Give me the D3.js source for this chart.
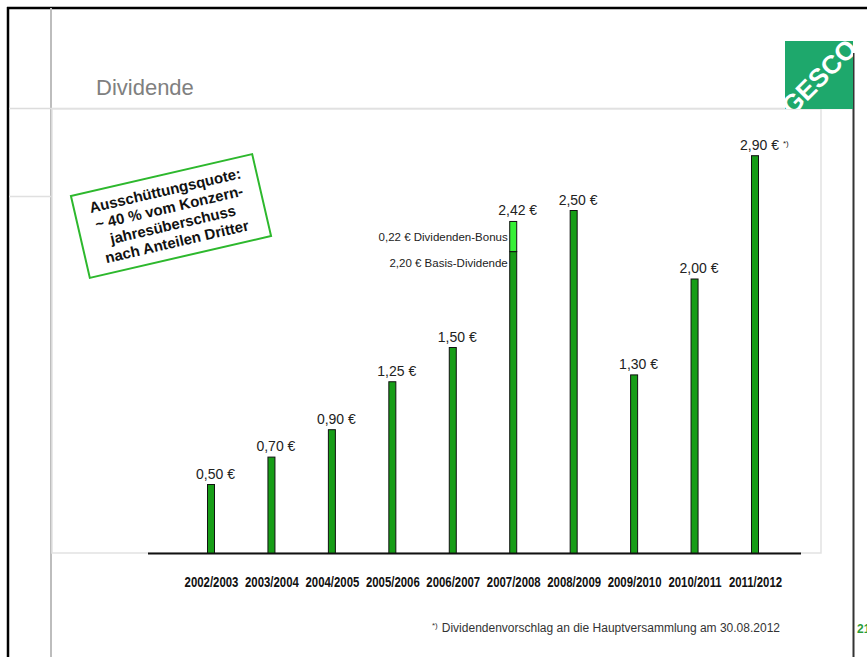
<!DOCTYPE html>
<html>
<head>
<meta charset="utf-8">
<script src="https://cdn.jsdelivr.net/npm/d3@7"></script>
<style>
  html, body { margin: 0; padding: 0; background: #fff; }
  svg { display: block; }
</style>
</head>
<body>
<svg id="chart" width="867" height="657"></svg>
<script>
// ---- data ----
const categories = ["2002/2003","2003/2004","2004/2005","2005/2006","2006/2007","2007/2008","2008/2009","2009/2010","2010/2011","2011/2012"];
const baseValues  = [0.50, 0.70, 0.90, 1.25, 1.50, 2.20, 2.50, 1.30, 2.00, 2.90];
const bonusValues = [0, 0, 0, 0, 0, 0.22, 0, 0, 0, 0];
const valueLabels = ["0,50 €","0,70 €","0,90 €","1,25 €","1,50 €","2,42 €","2,50 €","1,30 €","2,00 €","2,90 €"];
const footnoteMarks = ["","","","","","","","","","*)"];
const annotations = [
  {cat: "2007/2008", text: "0,22 € Dividenden-Bonus", part: "bonus"},
  {cat: "2007/2008", text: "2,20 € Basis-Dividende", part: "base"}
];
const boxLines = ["Ausschüttungsquote:", "~ 40 % vom Konzern-", "jahresüberschuss", "nach Anteilen Dritter"];
const title = "Dividende";
const footnoteMark = "*)";
const footnote = "Dividendenvorschlag an die Hauptversammlung am 30.08.2012";

const svg = d3.select("#chart");
const sans = "'Liberation Sans', Arial, Helvetica, sans-serif";

// ---- slide frame ----
svg.append("line").attr("x1", 7).attr("x2", 867).attr("y1", 8).attr("y2", 8).attr("stroke", "#000").attr("stroke-width", 2.5);
svg.append("line").attr("x1", 8).attr("x2", 8).attr("y1", 7).attr("y2", 657).attr("stroke", "#000").attr("stroke-width", 2.5);
svg.append("line").attr("x1", 51).attr("x2", 51).attr("y1", 8).attr("y2", 657).attr("stroke", "#bdbdbd").attr("stroke-width", 2);
svg.append("line").attr("x1", 9).attr("x2", 853).attr("y1", 108.5).attr("y2", 108.5).attr("stroke", "#dcdcdc").attr("stroke-width", 1.5);
svg.append("line").attr("x1", 9).attr("x2", 51).attr("y1", 196.5).attr("y2", 196.5).attr("stroke", "#e0e0e0").attr("stroke-width", 1.5);

// chart panel
svg.append("rect").attr("x", 52).attr("y", 109).attr("width", 769).attr("height", 444)
  .attr("fill", "#fff").attr("stroke", "#e2e2e2").attr("stroke-width", 1.5);

// right dark line
svg.append("line").attr("x1", 853.5).attr("x2", 853.5).attr("y1", 53).attr("y2", 657).attr("stroke", "#333").attr("stroke-width", 2);

// logo
const clip = svg.append("defs").append("clipPath").attr("id", "logoclip");
clip.append("rect").attr("x", 785).attr("y", 41).attr("width", 68).attr("height", 68);
svg.append("rect").attr("x", 785).attr("y", 41).attr("width", 68).attr("height", 68).attr("fill", "#1ea86c");
svg.append("g").attr("clip-path", "url(#logoclip)")
  .append("text").attr("transform", "translate(819,77) rotate(-45)")
  .attr("text-anchor", "middle").attr("y", 9)
  .attr("font-family", sans).attr("font-weight", "bold").attr("font-size", 26)
  .attr("fill", "#fff").text("GESCO");

// page number (cut off by the page edge as in the original)
svg.append("text").attr("x", 857).attr("y", 633).attr("font-family", sans).attr("font-weight", "bold")
  .attr("font-size", 12).attr("fill", "#2a9d3a").text("21");

// title
svg.append("text").attr("x", 96).attr("y", 95).attr("font-family", sans).attr("font-size", 22)
  .attr("fill", "#808080").text(title);

// ---- scales ----
const x = d3.scalePoint().domain(categories).range([211, 755]);
const y = d3.scaleLinear().domain([0, 3]).range([553, 142]);
const barW = 7;

// baseline
svg.append("line").attr("x1", x(categories[0]) - 63).attr("x2", x(categories[categories.length - 1]) + 46)
  .attr("y1", y(0) + 0.5).attr("y2", y(0) + 0.5).attr("stroke", "#111").attr("stroke-width", 2);

const data = categories.map((c, i) => ({cat: c, base: baseValues[i], bonus: bonusValues[i], label: valueLabels[i], mark: footnoteMarks[i]}));

// bars
const g = svg.append("g");
g.selectAll("rect.base").data(data).join("rect").attr("class", "base")
  .attr("x", d => x(d.cat) - barW / 2).attr("width", barW)
  .attr("y", d => y(d.base)).attr("height", d => y(0) - y(d.base))
  .attr("fill", "#179d17").attr("stroke", "#111").attr("stroke-width", 1);
g.selectAll("rect.bonus").data(data.filter(d => d.bonus > 0)).join("rect").attr("class", "bonus")
  .attr("x", d => x(d.cat) - barW / 2).attr("width", barW)
  .attr("y", d => y(d.base + d.bonus)).attr("height", d => y(d.base) - y(d.base + d.bonus))
  .attr("fill", "#36f036").attr("stroke", "#111").attr("stroke-width", 1);

// value labels
const lab = g.selectAll("text.val").data(data).join("text").attr("class", "val")
  .attr("x", d => x(d.cat) - 15).attr("y", d => y(d.base + d.bonus) - 6)
  .attr("font-family", sans).attr("font-size", 14).attr("fill", "#222");
lab.append("tspan").text(d => d.label);
lab.filter(d => d.mark).append("tspan").attr("dx", 4).attr("dy", -4).attr("font-size", 8).text(d => d.mark);

// annotations
const ann = annotations.map(a => {
  const d = data.find(e => e.cat === a.cat);
  return {...a, x: x(a.cat) - barW / 2 - 2, y: a.part === "bonus" ? y(d.base + d.bonus / 2) + 4 : y(d.base) + 15};
});
svg.selectAll("text.ann").data(ann).join("text").attr("class", "ann")
  .attr("x", d => d.x).attr("y", d => d.y).attr("text-anchor", "end")
  .attr("font-family", sans).attr("font-size", 11.5).attr("fill", "#222").text(d => d.text);

// x axis labels (condensed bold)
const axis = d3.axisBottom(x).tickSize(0).tickPadding(0);
const ax = svg.append("g").attr("transform", `translate(0,${y(0) + 34})`).call(axis);
ax.select(".domain").remove();
ax.selectAll("text").attr("font-family", sans).attr("font-weight", "bold").attr("font-size", 15)
  .attr("fill", "#111").attr("dy", 0).attr("y", 0)
  .attr("transform", "scale(0.76,1)");

// footnote
const fn = svg.append("text").attr("x", 432).attr("y", 632).attr("font-family", sans).attr("font-size", 12)
  .attr("fill", "#333");
fn.append("tspan").attr("font-size", 8).attr("dy", -4).text(footnoteMark);
fn.append("tspan").attr("dx", 4).attr("dy", 4).text(footnote);

// rotated box
const box = svg.append("g").attr("transform", "translate(171,216) rotate(-13)");
box.append("rect").attr("x", -93).attr("y", -42).attr("width", 186).attr("height", 84)
  .attr("fill", "#fff").attr("stroke", "#2db82d").attr("stroke-width", 2);
box.selectAll("text").data(boxLines).join("text")
  .attr("x", 0).attr("y", (d, i) => -21 + i * 17.5).attr("text-anchor", "middle")
  .attr("font-family", sans).attr("font-weight", "bold").attr("font-size", 15)
  .attr("fill", "#111").text(d => d);
</script>
</body>
</html>
